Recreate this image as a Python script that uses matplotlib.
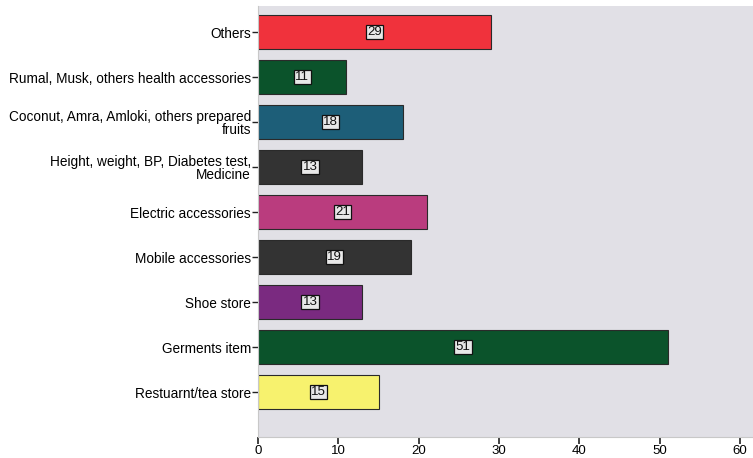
import matplotlib
matplotlib.use("Agg")
import matplotlib.pyplot as plt

categories = [
    "Restuarnt/tea store",
    "Germents item",
    "Shoe store",
    "Mobile accessories",
    "Electric accessories",
    "Height, weight, BP, Diabetes test,\nMedicine",
    "Coconut, Amra, Amloki, others prepared\nfruits",
    "Rumal, Musk, others health accessories",
    "Others",
]
values = [15, 51, 13, 19, 21, 13, 18, 11, 29]
colors = ["#F7F26E", "#0B532B", "#7A2A80", "#333333", "#BA3C7E",
          "#333333", "#1D5E78", "#0B532B", "#F0323C"]
xticks = [0, 10, 20, 30, 40, 50, 60]

plt.rcParams["font.family"] = ["Liberation Sans", "DejaVu Sans"]

fig = plt.figure(figsize=(7.53, 4.58), dpi=100)
ax = fig.add_axes([258 / 753, 1 - 437 / 458, (753 - 258) / 753, (437 - 6) / 458])
ax.set_facecolor("#E1E0E6")

ypos = list(range(len(categories)))
ax.barh(ypos, values, height=0.75, color=colors, edgecolor="#2A2A2A", linewidth=0.8)

for y, v in zip(ypos, values):
    ax.text(v / 2, y, str(v), ha="center", va="center", fontsize=9.5, color="#111111",
            bbox=dict(boxstyle="square,pad=0.1", facecolor="#E8E8E8", edgecolor="#111111", linewidth=0.9))

ax.set_xlim(0, 61.6)
ax.set_ylim(-1, 8.58)
ax.set_xticks(xticks)
ax.set_xticklabels([str(t) for t in xticks], fontsize=9.5)
ax.set_yticks(ypos)
ax.set_yticklabels(categories, fontsize=9.8, linespacing=0.95)
ax.tick_params(axis="y", length=4, width=1, color="#222222", pad=1)
ax.tick_params(axis="x", length=5, width=1.2, color="#222222", pad=1)

for side in ["top", "right"]:
    ax.spines[side].set_visible(False)
ax.spines["left"].set_color("#C8C8C8")
ax.spines["bottom"].set_color("#C8C8C8")

fig.savefig("out.png", dpi=100)
